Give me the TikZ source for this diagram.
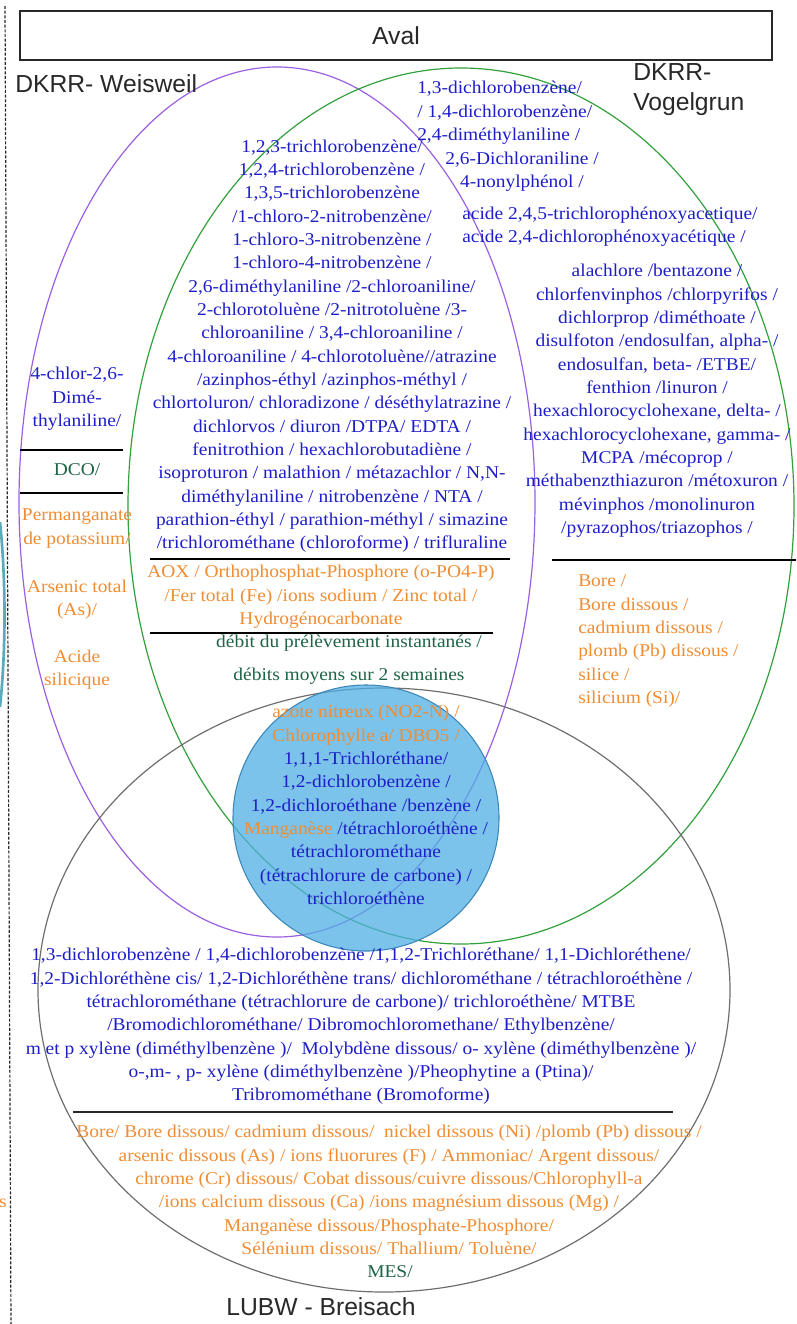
\documentclass[tikz,border=0pt]{standalone}
\usepackage{fontspec}
\usepackage{tikz}
\usetikzlibrary{positioning}

\newfontfamily\listfont{Liberation Serif}[FakeStretch=1.08]
\newfontfamily\labelfont{Liberation Sans}

\definecolor{chemblue}{RGB}{30,30,200}
\definecolor{metalorange}{RGB}{240,140,50}
\definecolor{flowgreen}{RGB}{30,100,70}
\definecolor{weisviolet}{RGB}{155,95,225}
\definecolor{vogelgreen}{RGB}{50,160,60}
\definecolor{breisgray}{RGB}{110,110,110}
\definecolor{commonfill}{RGB}{80,175,228}
\definecolor{commonline}{RGB}{60,135,185}
\definecolor{edgeteal}{RGB}{90,170,190}
\definecolor{labelgray}{RGB}{40,40,40}

\begin{document}
\begin{tikzpicture}[x=0.75pt, y=-0.75pt,
	chemlist/.style={font=\listfont\fontsize{13.5}{17.5}\selectfont, align=center, inner sep=0pt, text=chemblue},
	metallist/.style={chemlist, text=metalorange},
	flowlist/.style={chemlist, text=flowgreen},
	site/.style={font=\labelfont\fontsize{18.5}{22.5}\selectfont, inner sep=0pt, text=labelgray},
	setline/.style={line width=0.9pt},
	sep/.style={line width=0.9pt, black}]
	\useasboundingbox (0,0) rectangle (796,1324);

	% Draw sets
	\draw[edgeteal, line width=2pt] (0,522) .. controls (6,580) and (6,650) .. (0,707);
	\draw[labelgray, line width=0.9pt, dash pattern=on 2.2pt off 1.3pt] (5,6) -- (11,1324);
	\draw[setline, weisviolet] (277,502) ellipse [x radius=258, y radius=435];
	\draw[setline, vogelgreen] (461,506) ellipse [x radius=333, y radius=438];
	\draw[setline, breisgray] (384,990) ellipse [x radius=346, y radius=302];
	\draw[commonline, fill=commonfill, fill opacity=0.75, line width=0.8pt] (366,818) circle [radius=133];

	% Define nodes
	\node (aval) [site, draw=labelgray, line width=1.1pt, minimum width=564pt, minimum height=36.75pt] at (396,35.5) {Aval};
	\node (weisweil) [site, anchor=west] at (15,84) {DKRR- Weisweil};
	\node (vogelgrun) [site, anchor=west, align=left] at (633,90) {DKRR-\\Vogelgrun};
	\node (breisach) [site] at (321,1307) {LUBW - Breisach};

	\node (vgtop) [chemlist, anchor=west, align=left] at (417,113) {1,3-dichlorobenzène/\\/ 1,4-dichlorobenzène/\\2,4-diméthylaniline /};
	\node (vgnonyl) [chemlist] at (522,171.5) {2,6-Dichloraniline /\\4-nonylphénol /};
	\node (vgacide) [chemlist, anchor=west, align=left] at (462,226.5) {acide 2,4,5-trichlorophénoxyacetique/\\acide 2,4-dichlorophénoxyacétique /};
	\node (vgpest) [chemlist] at (657,401) {alachlore /bentazone /\\chlorfenvinphos /chlorpyrifos /\\dichlorprop /diméthoate /\\disulfoton /endosulfan, alpha- /\\endosulfan, beta- /ETBE/\\fenthion /linuron /\\hexachlorocyclohexane, delta- /\\hexachlorocyclohexane, gamma- /\\MCPA /mécoprop /\\méthabenzthiazuron /métoxuron /\\mévinphos /monolinuron\\/pyrazophos/triazophos /};
	\node (vgmetal) [metallist, anchor=west, align=left] at (578,641) {Bore /\\Bore dissous /\\cadmium dissous /\\plomb (Pb) dissous /\\silice /\\silicium (Si)/};

	\node (dkrr) [chemlist] at (332,346) {1,2,3-trichlorobenzène/\\1,2,4-trichlorobenzène /\\1,3,5-trichlorobenzène\\/1-chloro-2-nitrobenzène/\\1-chloro-3-nitrobenzène /\\1-chloro-4-nitrobenzène /\\2,6-diméthylaniline /2-chloroaniline/\\2-chlorotoluène /2-nitrotoluène /3-\\chloroaniline / 3,4-chloroaniline /\\4-chloroaniline / 4-chlorotoluène//atrazine\\/azinphos-éthyl /azinphos-méthyl /\\chlortoluron/ chloradizone / déséthylatrazine /\\dichlorvos / diuron /DTPA/ EDTA /\\fenitrothion / hexachlorobutadiène /\\isoproturon / malathion / métazachlor / N,N-\\diméthylaniline / nitrobenzène / NTA /\\parathion-éthyl / parathion-méthyl / simazine\\/trichlorométhane (chloroforme) / trifluraline};
	\node (dkrrmetal) [metallist] at (321,597) {AOX / Orthophosphat-Phosphore (o-PO4-P)\\/Fer total (Fe) /ions sodium / Zinc total /\\Hydrogénocarbonate};
	\node (debit) [flowlist] at (349,643) {débit du prélèvement instantanés /};
	\node (moyen) [flowlist, below of=debit, node distance=24.75pt] {débits moyens sur 2 semaines};

	\node (wwchem) [chemlist] at (77,399) {4-chlor-2,6-\\Dimé-\\thylaniline/};
	\node (dco) [flowlist] at (77,470) {DCO/};
	\node (permang) [metallist] at (77,528.5) {Permanganate\\de potassium/};
	\node (arsenic) [metallist] at (77,599.5) {Arsenic total\\(As)/};
	\node (silice) [metallist] at (77,669.5) {Acide\\silicique};

	\node (common) [chemlist] at (366,805) {\textcolor{metalorange}{azote nitreux (NO2-N) /}\\\textcolor{metalorange}{Chlorophylle a/ DBO5 /}\\1,1,1-Trichloréthane/\\1,2-dichlorobenzène /\\1,2-dichloroéthane /benzène /\\\textcolor{metalorange}{Manganèse} /tétrachloroéthène /\\tétrachlorométhane\\(tétrachlorure de carbone) /\\trichloroéthène};

	\node (lubwchem) [chemlist] at (361,1026.5) {1,3-dichlorobenzène / 1,4-dichlorobenzène /1,1,2-Trichloréthane/ 1,1-Dichloréthene/\\1,2-Dichloréthène cis/ 1,2-Dichloréthène trans/ dichlorométhane / tétrachloroéthène /\\tétrachlorométhane (tétrachlorure de carbone)/ trichloroéthène/ MTBE\\/Bromodichlorométhane/ Dibromochloromethane/ Ethylbenzène/\\m et p xylène (diméthylbenzène )/~ Molybdène dissous/ o- xylène (diméthylbenzène )/\\o-,m- , p- xylène (diméthylbenzène )/Pheophytine a (Ptina)/\\Tribromométhane (Bromoforme)};
	\node (lubwmetal) [metallist] at (389,1190) {Bore/ Bore dissous/ cadmium dissous/~ nickel dissous (Ni) /plomb (Pb) dissous /\\arsenic dissous (As) / ions fluorures (F) / Ammoniac/ Argent dissous/\\chrome (Cr) dissous/ Cobat dissous/cuivre dissous/Chlorophyll-a\\/ions calcium dissous (Ca) /ions magnésium dissous (Mg) /\\Manganèse dissous/Phosphate-Phosphore/\\Sélénium dissous/ Thallium/ Toluène/};
	\node (mes) [flowlist] at (390,1272) {MES/};
	\node (cutoff) [metallist, anchor=east] at (7,1203) {s};

	% Draw separators
	\draw[sep] (20,450) -- (123,450);
	\draw[sep] (20,493) -- (123,493);
	\draw[sep] (150,559) -- (510,559);
	\draw[sep] (150,633) -- (493,633);
	\draw[sep] (552,560) -- (796,560);
	\draw[sep, line width=1.2pt, labelgray] (73,1112) -- (673,1112);
\end{tikzpicture}
\end{document}
